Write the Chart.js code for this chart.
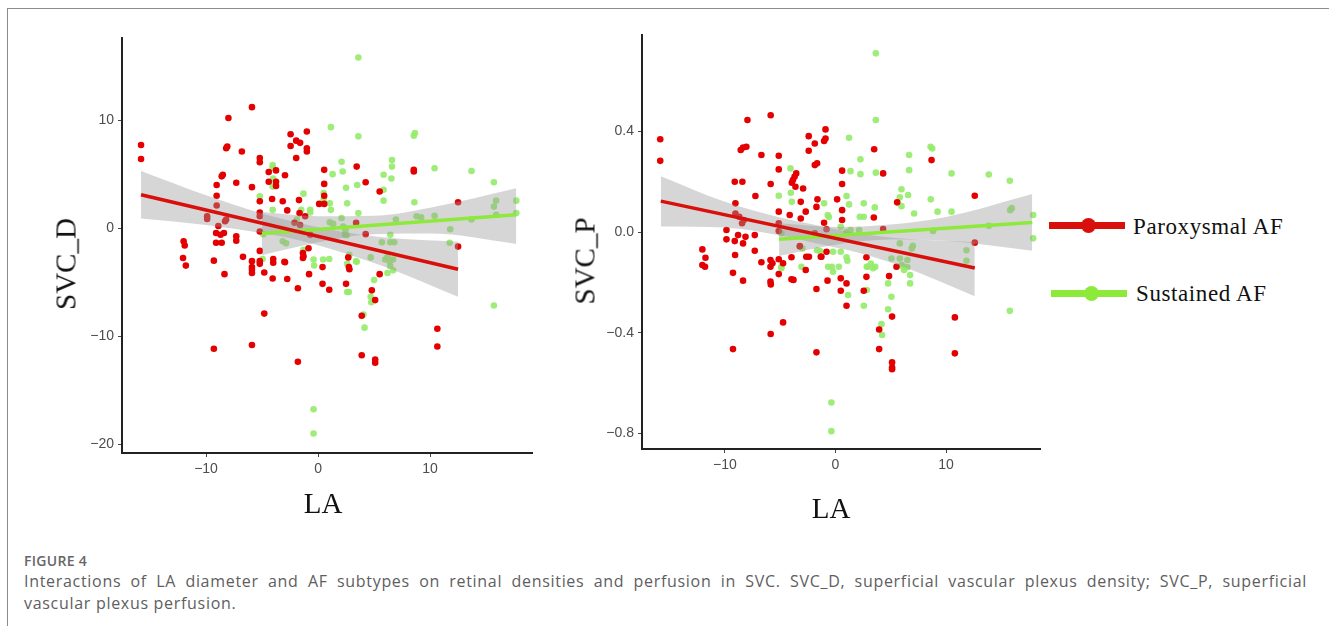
<!DOCTYPE html>
<html>
<head>
<meta charset="utf-8">
<script src="https://cdn.jsdelivr.net/npm/chart.js@4.4.1/dist/chart.umd.min.js"></script>
<style>
  body { margin: 0; background: #fff; width: 1329px; height: 626px; overflow: hidden; position: relative; font-family: "Open Sans", sans-serif; }
  .frame { position: absolute; left: 7px; top: 8px; width: 1400px; height: 700px; border-left: 1.5px solid #8c8c8c; border-top: 1.5px solid #8c8c8c; }
  canvas { position: absolute; top: 0; }
  .ttl { position: absolute; font-family: "Liberation Serif", "Times New Roman", serif; font-size: 29px; line-height: 29px; color: #111; white-space: nowrap; transform: translate(-50%, -50%); }
  .ttl.rot { transform: translate(-50%, -50%) rotate(-90deg); }
  .leg-line { position: absolute; width: 76px; height: 7px; }
  .leg-dot { position: absolute; width: 15px; height: 15px; border-radius: 50%; }
  .leg-txt { position: absolute; font-family: "Liberation Serif", "Times New Roman", serif; font-size: 23px; line-height: 24px; letter-spacing: 0.6px; color: #111; white-space: nowrap; }
  .cap { position: absolute; left: 24px; color: #5e5e5e; white-space: nowrap; }
  .fig { top: 553px; font-size: 14px; line-height: 16px; font-weight: 600; color: #666; letter-spacing: 0.3px; }
  .l2 { top: 571px; width: 1283px; font-size: 16px; line-height: 20px; letter-spacing: 0.7px; text-align: justify; text-align-last: justify; }
  .l3 { top: 593px; font-size: 16px; line-height: 20px; letter-spacing: 0.7px; }
</style>
</head>
<body>
<div class="frame"></div>

<canvas id="chartD" width="545" height="500" style="left:0"></canvas>
<canvas id="chartP" width="500" height="500" style="left:545px"></canvas>

<div class="ttl rot" style="left:66px;top:264px">SVC_D</div>
<div class="ttl" style="left:323px;top:503px">LA</div>
<div class="ttl rot" style="left:585px;top:261px">SVC_P</div>
<div class="ttl" style="left:831px;top:508px">LA</div>

<div class="leg-line" style="left:1049px;top:222px;background:#d80f0a"></div>
<div class="leg-dot" style="left:1081px;top:218px;background:#d80f0a"></div>
<div class="leg-txt" style="left:1133px;top:215px">Paroxysmal AF</div>
<div class="leg-line" style="left:1051px;top:290px;background:#8eea3a"></div>
<div class="leg-dot" style="left:1084px;top:286px;background:#8eea3a"></div>
<div class="leg-txt" style="left:1136px;top:282px">Sustained AF</div>

<div class="cap fig">FIGURE 4</div>
<div class="cap l2">Interactions of LA diameter and AF subtypes on retinal densities and perfusion in SVC. SVC_D, superficial vascular plexus density; SVC_P, superficial</div>
<div class="cap l3">vascular plexus perfusion.</div>

<script>
// 점 데이터: [LA, 값]
const parD = [
  [-15.8,7.7],[-15.8,6.4],[-12.0,-1.2],[-11.9,-1.6],[-12.05,-2.75],[-11.8,-3.46],
  [-8.0,10.2],[-5.9,11.2],[-8.2,7.4],[-8.1,7.55],[-6.8,7.1],
  [-8.6,4.8],[-8.5,4.95],[-7.3,4.2],[-9.05,4.0],[-9.05,3.0],[-9.05,2.1],
  [-9.9,1.1],[-9.9,0.85],[-8.9,0.2],[-8.3,0.65],[-8.2,0.8],
  [-9.1,-0.45],[-8.7,-0.6],[-8.4,-0.45],[-9.1,-1.35],[-8.6,-1.35],
  [-7.3,-0.75],[-7.3,-1.15],[-9.3,-3.0],[-6.7,-2.65],[-5.9,-3.05],[-5.9,-3.6],
  [-5.2,6.5],[-5.2,6.1],[-5.9,3.8],[-5.2,2.5],[-5.2,1.45],[-5.2,1.1],[-5.2,-0.3],[-5.2,-2.1],[-5.2,-3.05],
  [-4.4,5.2],[-3.75,5.35],[-3.75,4.3],[-3.75,3.9],[-4.4,4.3],[-4.1,2.7],[-3.15,2.5],[-2.95,4.9],[-2.75,1.65],
  [-4.0,-2.85],[-4.0,-3.2],[-3.0,-3.1],
  [-2.45,8.7],[-2.45,7.6],[-1.95,8.1],[-1.6,7.9],[-1.95,6.5],[-1.0,8.95],[-1.0,7.4],[-1.0,7.1],
  [-1.7,2.6],[-1.65,1.4],[-1.15,1.1],[-2.1,0.5],[-1.6,0.3],[-0.7,-0.6],[-1.3,-2.6],[-0.85,-1.85],
  [0.55,5.4],[0.55,4.1],[0.55,3.0],[0.55,2.25],[0.1,2.25],[0.4,-3.6],
  [3.45,5.7],[4.25,4.25],[5.5,3.4],[3.4,0.5],[4.25,-0.55],[2.7,-2.7],[2.75,-3.6],
  [8.55,5.4],[8.55,5.25],[12.5,2.4],[12.5,-1.7],
  [-8.35,-4.25],[-5.9,-3.85],[-5.9,-4.15],[-5.2,-3.3],[-4.8,-4.1],[-4.05,-4.65],[-2.95,-3.15],[-2.75,-4.7],
  [-1.35,-2.3],[-1.35,-2.75],[-0.8,-4.25],[-1.8,-5.55],[0.4,-5.15],[1.0,-5.7],[2.5,-5.15],[2.8,-3.8],
  [4.8,-5.75],[5.1,-6.65],[5.5,-4.25],[-4.8,-7.9],[3.9,-8.1],[-9.3,-11.15],[-5.9,-10.8],[-1.8,-12.35],
  [3.9,-11.75],[5.1,-12.15],[5.1,-12.45],[10.65,-9.3],[10.65,-10.95]
];
const susD = [
  [3.6,15.8],[1.15,9.35],[3.6,8.5],[8.65,8.8],[8.55,8.55],[10.4,5.55],[13.7,5.3],[15.7,4.25],[15.9,2.55],[15.7,2.0],
  [17.7,2.55],[17.7,1.4],[15.9,1.25],[13.7,0.8],[11.8,-0.1],[11.75,-1.35],[10.4,1.15],[8.6,2.4],[8.8,1.1],[9.2,1.0],
  [6.6,6.3],[6.6,5.7],[6.55,4.6],[5.85,4.95],[5.85,3.55],[5.85,2.55],[6.95,0.8],[6.45,-0.6],[6.8,-1.3],[6.45,-1.3],
  [5.7,-1.3],[6.0,-2.9],[6.4,-3.05],[6.7,-2.9],[6.45,-3.5],[4.7,-2.7],
  [3.6,1.4],[3.5,4.0],[2.5,3.75],[2.6,2.3],[2.2,5.25],[2.1,6.15],[1.3,5.0],[1.05,2.3],[1.15,1.7],[1.05,0.55],
  [1.35,0.4],[2.1,0.95],[2.4,-0.6],[2.55,-0.65],[3.4,-3.05],[2.8,-2.45],
  [0.5,3.25],[0.5,2.7],[-0.7,1.7],[-0.7,1.45],[-1.3,3.2],[-1.5,1.7],[-1.9,0.8],[-3.15,-1.2],[-2.85,-1.4],
  [-4.05,5.85],[-4.05,5.6],[-4.0,4.6],[-4.05,3.85],[-4.05,1.7],[-5.2,2.95],[-4.9,-0.55],[-4.95,-2.85],
  [-1.3,-2.0],[-0.4,-2.9],[0.45,-2.9],[1.0,-2.85],[2.25,0.15],[2.45,-0.2],[-0.35,-3.45],[2.6,-3.3],[3.45,-3.1],
  [6.2,-2.65],[6.2,-4.15],[6.7,-3.9],[5.0,-4.8],[2.6,-5.9],[2.75,-5.9],[4.7,-6.35],[4.75,-6.85],
  [4.05,-8.0],[4.15,-9.2],[15.7,-7.15],[-0.4,-16.75],[-0.4,-19.0]
];
const parP = [
  [-15.85,0.369],[-15.85,0.283],[-7.96,0.445],[-5.86,0.464],[-8.57,0.326],[-8.36,0.336],[-8.06,0.339],[-6.7,0.306],
  [-9.11,0.2],[-8.42,0.2],[-7.24,0.143],[-9.05,0.114],[-9.05,0.074],[-8.7,0.061],[-8.45,0.035],[-8.3,0.048],
  [-9.86,0.008],[-9.86,-0.029],[-9.11,-0.036],[-8.81,-0.012],[-8.36,-0.045],[-8.14,-0.019],[-7.3,-0.012],[-7.3,-0.074],[-9.08,-0.091],
  [-12.04,-0.069],[-11.76,-0.102],[-12.04,-0.131],[-11.8,-0.138],[-6.7,-0.12],[-5.88,-0.111],[-5.7,-0.124],
  [-5.13,0.303],[-5.13,0.249],[-5.13,0.081],[-5.86,0.191],[-5.13,0.035],[-5.13,0.004],[-5.13,-0.108],
  [-4.14,0.068],[-3.95,0.196],[-3.85,0.207],[-3.7,0.22],[-3.55,0.233],[-3.62,0.18],[-2.93,0.173],[-3.14,0.12],[-3.14,0.054],[-2.69,0.081],
  [-2.42,0.381],[-2.42,0.323],[-1.87,0.352],[-1.87,0.266],[-1.66,0.273],[-1.63,0.13],[-1.72,0.1],
  [-1.03,0.362],[-0.9,0.372],[-0.9,0.408],[-1.03,0.037],[-1.87,-0.005],[-0.81,0.011],
  [-3.23,-0.056],[-2.64,-0.098],[-2.4,-0.098],[-1.27,-0.098],[-0.81,-0.078],
  [0.15,0.13],[0.6,0.087],[0.6,0.048],[0.6,0.244],[0.6,0.191],
  [3.5,0.329],[4.31,0.233],[3.47,0.058],[4.31,0.012],[5.58,0.118],[8.69,0.286],[12.6,0.144],[12.6,-0.042],[2.8,-0.1],[5.52,-0.138],
  [-9.27,-0.162],[-8.36,-0.193],[-5.88,-0.138],[-5.88,-0.197],[-5.85,-0.208],[-5.13,-0.167],[-4.74,-0.124],[-3.98,-0.1],
  [-3.98,-0.188],[-3.8,-0.19],[-2.69,-0.151],[-1.72,-0.226],[-1.33,-0.098],[-0.72,-0.193],[0.48,-0.184],[0.48,-0.233],
  [1.0,-0.204],[1.0,-0.293],[2.56,-0.233],[2.8,-0.178],[4.85,-0.175],[5.12,-0.336],[-4.74,-0.359],[-5.86,-0.405],
  [3.95,-0.387],[-9.27,-0.465],[-1.72,-0.478],[3.95,-0.465],[5.12,-0.518],[5.12,-0.538],[5.12,-0.545],[10.8,-0.339],[10.8,-0.482]
];
const susP = [
  [3.65,0.71],[3.65,0.445],[1.23,0.375],[3.65,0.236],[2.26,0.289],[2.26,0.23],[1.36,0.242],[6.66,0.306],[6.66,0.246],
  [8.6,0.339],[8.75,0.332],[10.5,0.233],[13.87,0.229],[15.77,0.204],[15.8,0.087],[15.95,0.095],[17.88,0.068],[17.88,-0.025],
  [13.87,0.025],[10.5,0.081],[9.23,0.081],[8.62,0.13],[8.83,0.004],[7.11,0.074],[6.57,0.147],[5.97,0.17],[5.82,0.138],
  [5.97,0.103],[5.82,-0.045],[7.0,-0.055],[6.9,-0.065],
  [3.56,0.098],[2.56,0.114],[2.2,0.061],[2.56,0.061],[1.23,0.11],[1.0,0.143],[1.36,0.008],[2.14,0.008],[0.48,0.021],[1.0,0.0],
  [-0.7,0.068],[-0.6,0.06],[-1.03,0.114],[-4.07,0.253],[-4.04,0.156],[-3.95,0.12],[-5.13,0.144],
  [-3.23,-0.058],[-3.0,-0.065],[-1.66,-0.072],[-1.4,-0.075],[-0.22,-0.078],[0.48,-0.078],[1.0,-0.1],[-0.33,-0.138],
  [0.3,-0.138],[2.92,-0.138],[3.2,-0.125],[3.6,-0.138],[6.12,-0.138],[11.85,-0.072],[11.85,-0.114],[-4.9,-0.005],[-4.9,-0.138],
  [6.5,-0.111],[6.5,-0.14],[6.2,-0.151],[6.75,-0.171],[6.75,-0.204],[5.82,-0.105],[6.0,-0.131],[5.06,-0.105],[4.76,-0.204],
  [5.06,-0.257],[4.76,-0.307],[4.16,-0.366],[4.22,-0.409],[2.83,-0.138],[2.83,-0.23],[3.4,-0.144],[2.56,-0.293],[1.14,-0.25],
  [1.08,-0.114],[-0.67,-0.138],[-0.22,-0.158],[-3.08,-0.138],[-4.89,-0.144],[15.77,-0.313],[-0.37,-0.677],[-0.37,-0.791]
];

// 회귀선 끝점 [LA, 값]
const parLineD = [[-15.8, 3.1], [12.5, -3.8]];
const susLineD = [[-5.0, -0.5], [17.7, 1.25]];
const parLineP = [[-15.8, 0.123], [12.6, -0.143]];
const susLineP = [[-5.1, -0.029], [17.8, 0.038]];

// 95% 신뢰구간 (그림에서 읽은 위/아래 경계)
const parBandX_D = [-15.8, -10, -5, -2, 2, 6, 12.5];
const parUpper_D = [5.3, 3.05, 1.35, 0.55, -0.3, -0.85, -1.25];
const parLower_D = [0.9, 0.3, -0.45, -1.05, -2.2, -3.6, -6.35];
const susBandX_D = [-5.0, 0, 5, 10, 17.7];
const susUpper_D = [1.5, 1.1, 1.15, 1.9, 3.7];
const susLower_D = [-2.5, -1.3, -0.55, -0.5, -1.45];

const parBandX_P = [-15.8, -10, -5, -2, 2, 6, 12.6];
const parUpper_P = [0.222, 0.12, 0.058, 0.03, -0.005, -0.026, -0.04];
const parLower_P = [0.022, 0.018, -0.014, -0.042, -0.081, -0.136, -0.255];
const susBandX_P = [-5.1, 0, 5, 10, 17.8];
const susUpper_P = [0.035, 0.02, 0.03, 0.06, 0.151];
const susLower_P = [-0.095, -0.05, -0.03, -0.035, -0.074];

const RED_PT = "#e40000";
const GREEN_PT = "rgba(150,236,108,0.92)";
const RED_LINE = "#d80f0a";
const GREEN_LINE = "#8eea3a";
const BAND = "rgba(153,153,153,0.4)";
const MINUS = "\u2212";

const pts = (arr) => arr.map(([x, y]) => ({ x, y }));
const zip = (xs, ys) => xs.map((x, i) => ({ x, y: ys[i] }));

function pointSet(data, color) {
  return { data: pts(data), backgroundColor: color, borderWidth: 0, pointRadius: 3.3, order: 3 };
}
function bandSet(xs, ys, fill) {
  return {
    type: "line", data: zip(xs, ys), fill, backgroundColor: BAND, borderWidth: 0,
    pointRadius: 0, cubicInterpolationMode: "monotone", order: 2,
  };
}
function lineSet(data, color) {
  return { type: "line", data: pts(data), borderColor: color, borderWidth: 3.5, pointRadius: 0, fill: false, order: 1 };
}

function axis(min, max, step, fmt, size) {
  return {
    type: "linear", min, max,
    ticks: { stepSize: step, includeBounds: false, color: "#4d4d4d", padding: 4, font: { family: "Liberation Sans, Arial, sans-serif", size: 14 }, callback: fmt },
    grid: { drawOnChartArea: false, color: "#444", tickLength: 4, tickWidth: 1 },
    border: { color: "#222", width: 2 },
    afterFit: (s) => { if (s.isHorizontal()) s.height = size; else s.width = size; },
  };
}

const fmtInt = (v) => (v < 0 ? MINUS + Math.abs(v) : String(v));
const fmtDec = (v) => (v < -1e-9 ? MINUS : "") + Math.abs(v).toFixed(1);

function makeChart(id, sets, xAxis, yAxis, padding) {
  return new Chart(document.getElementById(id).getContext("2d"), {
    type: "scatter",
    data: { datasets: sets },
    options: {
      responsive: false, animation: false, devicePixelRatio: 1,
      layout: { padding },
      plugins: { legend: { display: false }, tooltip: { enabled: false } },
      scales: { x: xAxis, y: yAxis },
    },
  });
}

makeChart("chartD", [
  pointSet(parD, RED_PT),
  pointSet(susD, GREEN_PT),
  bandSet(parBandX_D, parUpper_D, "+1"),
  bandSet(parBandX_D, parLower_D, false),
  bandSet(susBandX_D, susUpper_D, "+1"),
  bandSet(susBandX_D, susLower_D, false),
  lineSet(parLineD, RED_LINE),
  lineSet(susLineD, GREEN_LINE),
], axis(-17.5, 19.1, 10, fmtInt, 30), axis(-20.8, 17.6, 10, fmtInt, 84), { left: 38, right: 13, top: 38, bottom: 17 });

makeChart("chartP", [
  pointSet(parP, RED_PT),
  pointSet(susP, GREEN_PT),
  bandSet(parBandX_P, parUpper_P, "+1"),
  bandSet(parBandX_P, parLower_P, false),
  bandSet(susBandX_P, susUpper_P, "+1"),
  bandSet(susBandX_P, susLower_P, false),
  lineSet(parLineP, RED_LINE),
  lineSet(susLineP, GREEN_LINE),
], axis(-17.5, 18.5, 10, fmtInt, 30), axis(-0.862, 0.783, 0.4, fmtDec, 57), { left: 40, right: 5, top: 35, bottom: 21 });
</script>
</body>
</html>
